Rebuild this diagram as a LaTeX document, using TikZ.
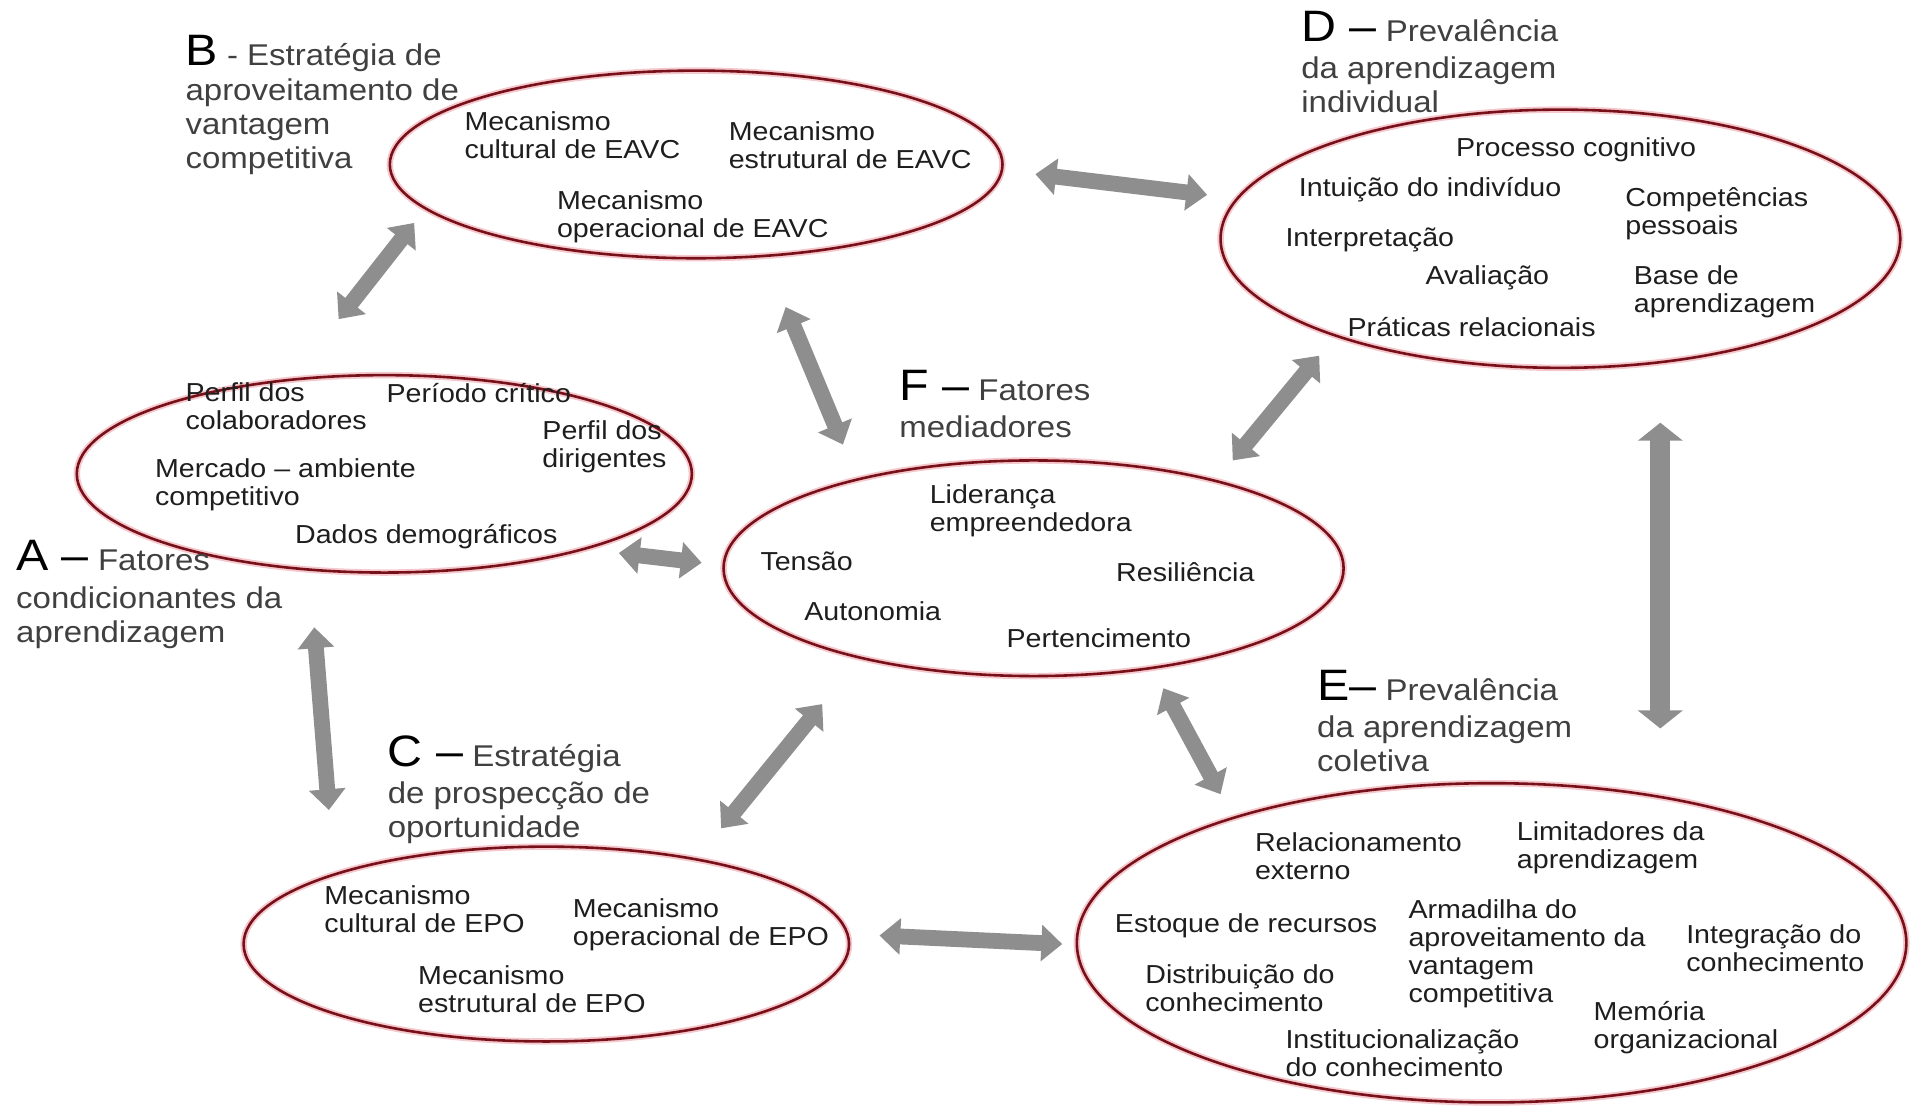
\documentclass[tikz,border=0pt]{standalone}
\usepackage{fontspec}
\setmainfont{Liberation Sans}[FakeStretch=1.1]
\usetikzlibrary{arrows.meta,shapes.geometric}
\definecolor{ringred}{RGB}{120,16,26}
\definecolor{halo}{RGB}{244,200,205}
\definecolor{arrowgray}{RGB}{142,142,142}
\definecolor{ink}{RGB}{30,30,30}
\newcommand{\bigletter}{\fontsize{22}{22}\selectfont\color{black}}
\begin{document}
\begin{tikzpicture}[
  x=0.609pt, y=-0.609pt,
  ring/.style={ellipse, draw=ringred, line width=1.3pt,
    preaction={draw=halo, line width=3.2pt}, inner sep=0pt},
  item/.style={anchor=north west, align=left, inner sep=0pt, text=ink,
    font=\fontsize{13}{14}\selectfont,
    execute at begin node={\rule{0pt}{10pt}}},
  lab/.style={anchor=north west, align=left, inner sep=0pt, text=ink!85,
    font=\fontsize{15}{16.8}\selectfont,
    execute at begin node={\rule{0pt}{16pt}}},
  twoway/.style={draw=arrowgray, line width=7.9pt,
    {Triangle[width=17.7pt,length=10.4pt]}-{Triangle[width=17.7pt,length=10.4pt]}},
  wide/.style={line width=10pt,
    {Triangle[width=22pt,length=9pt]}-{Triangle[width=22pt,length=9pt]}}
]
\useasboundingbox (0,0) rectangle (1568,913);
\fill[white] (0,0) rectangle (1568,913);

% ellipses
\node[ring, minimum width=306.3pt, minimum height=93.8pt]  (ellB) at (571.5,135) {};
\node[ring, minimum width=339.8pt, minimum height=129.1pt] (ellD) at (1281,196) {};
\node[ring, minimum width=307.5pt, minimum height=98.7pt]  (ellA) at (315.5,389) {};
\node[ring, minimum width=310pt,   minimum height=107.8pt] (ellF) at (848.5,466.5) {};
\node[ring, minimum width=302.7pt, minimum height=97.4pt]  (ellC) at (448.5,775) {};
\node[ring, minimum width=414.7pt, minimum height=159.6pt] (ellE) at (1224.5,774) {};

% group titles
\node[lab] (labB) at (152,28.5) {{\bigletter B} - Estratégia de\\[1pt]aproveitamento de\\vantagem\\competitiva};
\node[lab] (labD) at (1068,8.5) {{\bigletter D –} Prevalência\\[2pt]da aprendizagem\\individual};
\node[lab] (labA) at (13,443.5) {{\bigletter A –} Fatores\\[2pt]condicionantes da\\aprendizagem};
\node[lab] (labF) at (738,303.5) {{\bigletter F –} Fatores\\[2pt]mediadores};
\node[lab] (labC) at (318,603.5) {{\bigletter C –} Estratégia\\[2pt]de prospecção de\\oportunidade};
\node[lab] (labE) at (1081,549.5) {{\bigletter E–} Prevalência\\[2pt]da aprendizagem\\coletiva};

% B items
\node[item] (b1) at (381,91.6) {Mecanismo\\cultural de EAVC};
\node[item] (b2) at (598,99.6) {Mecanismo\\estrutural de EAVC};
\node[item] (b3) at (457,156.6) {Mecanismo\\operacional de EAVC};

% D items
\node[item] (d1) at (1195,111.6) {Processo cognitivo};
\node[item] (d2) at (1066,144.6) {Intuição do indivíduo};
\node[item] (d3) at (1334,153.6) {Competências\\pessoais};
\node[item] (d4) at (1055,185.6) {Interpretação};
\node[item] (d5) at (1170,216.6) {Avaliação};
\node[item] (d6) at (1341,217.6) {Base de\\aprendizagem};
\node[item] (d7) at (1106,259.6) {Práticas relacionais};

% A items
\node[item] (a1) at (152,313.6) {Perfil dos\\colaboradores};
\node[item] (a2) at (317,313.6) {Período crítico};
\node[item] (a3) at (445,344.6) {Perfil dos\\dirigentes};
\node[item] (a4) at (127,376.6) {Mercado – ambiente\\competitivo};
\node[item] (a5) at (242,429.6) {Dados demográficos};

% F items
\node[item] (f1) at (763,397.6) {Liderança\\empreendedora};
\node[item] (f2) at (624,451.6) {Tensão};
\node[item] (f3) at (916,460.6) {Resiliência};
\node[item] (f4) at (660,492.6) {Autonomia};
\node[item] (f5) at (826,514.6) {Pertencimento};

% C items
\node[item] (c1) at (266,726.6) {Mecanismo\\cultural de EPO};
\node[item] (c2) at (470,737.6) {Mecanismo\\operacional de EPO};
\node[item] (c3) at (343,792.6) {Mecanismo\\estrutural de EPO};

% E items
\node[item] (e1) at (1030,683.6) {Relacionamento\\externo};
\node[item] (e2) at (1245,674.6) {Limitadores da\\aprendizagem};
\node[item] (e3) at (915,748.6) {Estoque de recursos};
\node[item] (e4) at (1156,738.6) {Armadilha do\\aproveitamento da\\vantagem\\competitiva};
\node[item] (e5) at (1384,758.6) {Integração do\\conhecimento};
\node[item] (e6) at (940,791.6) {Distribuição do\\conhecimento};
\node[item] (e7) at (1308,821.6) {Memória\\organizacional};
\node[item] (e8) at (1055,844.6) {Institucionalização\\do conhecimento};

% arrow end points
\coordinate (bd1) at (850,143);  \coordinate (bd2) at (991,160);
\coordinate (ba1) at (340,183);  \coordinate (ba2) at (278,262);
\coordinate (bf1) at (645,252);  \coordinate (bf2) at (692,365);
\coordinate (df1) at (1083,292); \coordinate (df2) at (1012,378);
\coordinate (de1) at (1363,347); \coordinate (de2) at (1363,598);
\coordinate (af1) at (508,454);  \coordinate (af2) at (576,462);
\coordinate (ac1) at (258,515);  \coordinate (ac2) at (270,665);
\coordinate (cf1) at (592,680);  \coordinate (cf2) at (675,578);
\coordinate (fe1) at (955,565);  \coordinate (fe2) at (1002,652);
\coordinate (ce1) at (722,768);  \coordinate (ce2) at (872,775);

% two-way arrows
\draw[twoway] (bd1) -- (bd2);
\draw[twoway] (ba1) -- (ba2);
\draw[twoway] (bf1) -- (bf2);
\draw[twoway] (df1) -- (df2);
\draw[twoway, wide] (de1) -- (de2);
\draw[twoway] (af1) -- (af2);
\draw[twoway] (ac1) -- (ac2);
\draw[twoway] (cf1) -- (cf2);
\draw[twoway] (fe1) -- (fe2);
\draw[twoway] (ce1) -- (ce2);
\end{tikzpicture}
\end{document}
